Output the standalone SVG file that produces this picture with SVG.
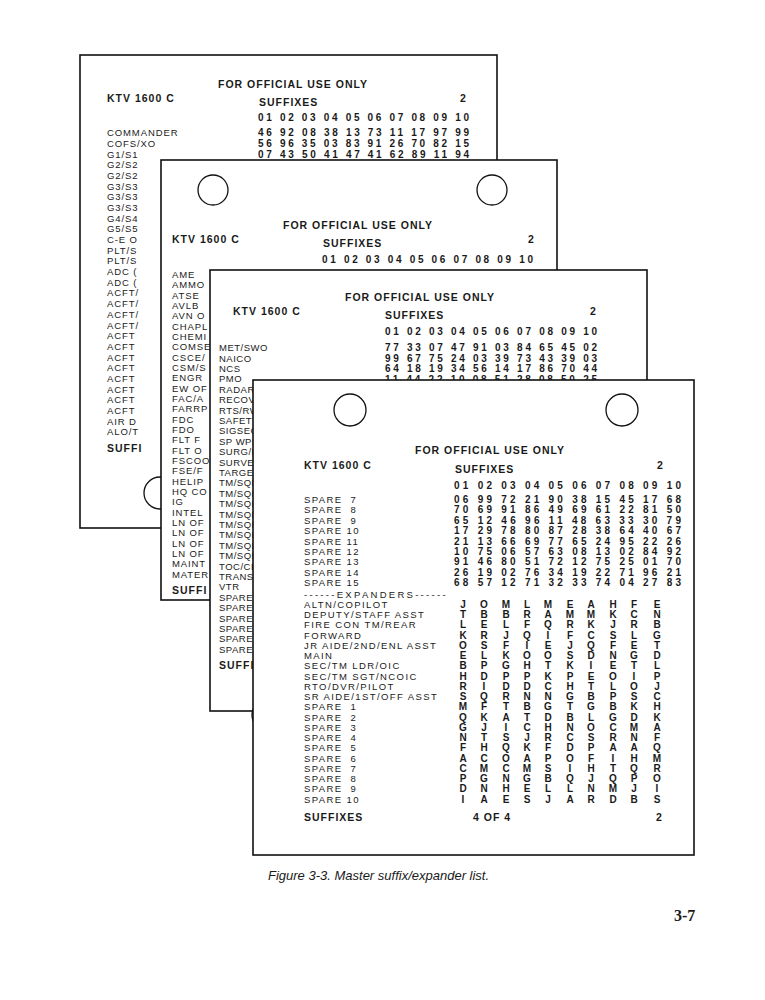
<svg xmlns="http://www.w3.org/2000/svg" width="765" height="1000" viewBox="0 0 765 1000">
<style>
.card{fill:#fff;stroke:#111;stroke-width:1.6}
.hole{fill:#fff;stroke:#111;stroke-width:1.3}
text{font-family:"Liberation Sans",Arial,sans-serif;fill:#1a1a1a}
.h{font-size:10.5px;font-weight:bold;letter-spacing:1px}
.l{font-size:9.5px;letter-spacing:0.9px}
.l4{font-size:9.5px;letter-spacing:1.4px}
.n{font-size:10px;font-weight:bold}
.lt{font-size:10px;font-weight:bold}
</style>
<rect width="765" height="1000" fill="#fff"/>
<g id="card1">
<rect class="card" x="80" y="55" width="417" height="473"/>
<circle class="hole" cx="160" cy="493" r="16"/>
<text class="h" x="218" y="88">FOR OFFICIAL USE ONLY</text>
<text class="h" x="107" y="102">KTV 1600 C</text>
<text class="h" x="259" y="106">SUFFIXES</text>
<text class="h" x="460" y="102">2</text>
<text class="n" x="258" y="121" textLength="211">01 02 03 04 05 06 07 08 09 10</text>
<text class="n" x="258" y="136" textLength="211">46 92 08 38 13 73 11 17 97 99</text>
<text class="n" x="258" y="147" textLength="211">56 96 35 03 83 91 26 70 82 15</text>
<text class="n" x="258" y="158" textLength="211">07 43 50 41 47 41 62 89 11 94</text>
<g class="l">
<text x="107" y="136">COMMANDER</text><text x="107" y="147">COFS/XO</text><text x="107" y="158">G1/S1</text>
<text x="107" y="168">G2/S2</text><text x="107" y="179">G2/S2</text><text x="107" y="190">G3/S3</text>
<text x="107" y="200">G3/S3</text><text x="107" y="211">G3/S3</text><text x="107" y="222">G4/S4</text>
<text x="107" y="232">G5/S5</text><text x="107" y="243">C-E O</text><text x="107" y="254">PLT/S</text>
<text x="107" y="264">PLT/S</text><text x="107" y="275">ADC (</text><text x="107" y="286">ADC (</text>
<text x="107" y="296">ACFT/</text><text x="107" y="307">ACFT/</text><text x="107" y="318">ACFT/</text>
<text x="107" y="329">ACFT/</text><text x="107" y="339">ACFT</text><text x="107" y="350">ACFT</text>
<text x="107" y="361">ACFT</text><text x="107" y="371">ACFT</text><text x="107" y="382">ACFT</text>
<text x="107" y="393">ACFT</text><text x="107" y="403">ACFT</text><text x="107" y="414">ACFT</text>
<text x="107" y="425">AIR D</text><text x="107" y="435">ALO/T</text>
</g>
<text class="h" x="107" y="452">SUFFI</text>
</g>
<g id="card2">
<rect class="card" x="161" y="160" width="396" height="440"/>
<circle class="hole" cx="213" cy="190" r="15"/>
<circle class="hole" cx="492" cy="190" r="15"/>
<text class="h" x="283" y="229">FOR OFFICIAL USE ONLY</text>
<text class="h" x="172" y="243">KTV 1600 C</text>
<text class="h" x="323" y="247">SUFFIXES</text>
<text class="h" x="528" y="243">2</text>
<text class="n" x="322" y="263" textLength="211">01 02 03 04 05 06 07 08 09 10</text>
<g class="l">
<text x="172" y="278">AME</text><text x="172" y="288">AMMO</text><text x="172" y="299">ATSE</text>
<text x="172" y="309">AVLB</text><text x="172" y="319">AVN O</text><text x="172" y="330">CHAPL</text>
<text x="172" y="340">CHEMI</text><text x="172" y="350">COMSE</text><text x="172" y="361">CSCE/</text>
<text x="172" y="371">CSM/S</text><text x="172" y="381">ENGR</text><text x="172" y="392">EW OF</text>
<text x="172" y="402">FAC/A</text><text x="172" y="412">FARRP</text><text x="172" y="423">FDC</text>
<text x="172" y="433">FDO</text><text x="172" y="443">FLT F</text><text x="172" y="454">FLT O</text>
<text x="172" y="464">FSCOO</text><text x="172" y="474">FSE/F</text><text x="172" y="485">HELIP</text>
<text x="172" y="495">HQ CO</text><text x="172" y="505">IG</text><text x="172" y="516">INTEL</text>
<text x="172" y="526">LN OF</text><text x="172" y="536">LN OF</text><text x="172" y="547">LN OF</text>
<text x="172" y="557">LN OF</text><text x="172" y="567">MAINT</text><text x="172" y="578">MATER</text>
</g>
<text class="h" x="172" y="594">SUFFI</text>
</g>
<g id="card3">
<rect class="card" x="210" y="270" width="437" height="441"/>
<circle class="hole" cx="268" cy="715" r="16"/>
<text class="h" x="345" y="301">FOR OFFICIAL USE ONLY</text>
<text class="h" x="233" y="315">KTV 1600 C</text>
<text class="h" x="385" y="319">SUFFIXES</text>
<text class="h" x="590" y="315">2</text>
<text class="n" x="385" y="335" textLength="212">01 02 03 04 05 06 07 08 09 10</text>
<text class="n" x="385" y="351" textLength="212">77 33 07 47 91 03 84 65 45 02</text>
<text class="n" x="385" y="362" textLength="212">99 67 75 24 03 39 73 43 39 03</text>
<text class="n" x="385" y="372" textLength="212">64 18 19 34 56 14 17 86 70 44</text>
<text class="n" x="385" y="383" textLength="212">11 44 22 10 08 51 28 08 50 25</text>
<g class="l" style="letter-spacing:0.5px">
<text x="219" y="351">MET/SWO</text><text x="219" y="362">NAICO</text><text x="219" y="372">NCS</text>
<text x="219" y="382">PMO</text><text x="219" y="393">RADAR</text><text x="219" y="403">RECOVER</text>
<text x="219" y="414">RTS/RWI</text><text x="219" y="424">SAFETY</text><text x="219" y="434">SIGSEC</text>
<text x="219" y="445">SP WPNS</text><text x="219" y="455">SURG/ME</text><text x="219" y="466">SURVEY</text>
<text x="219" y="476">TARGET</text><text x="219" y="486">TM/SQD/</text><text x="219" y="497">TM/SQD/</text>
<text x="219" y="507">TM/SQD/</text><text x="219" y="518">TM/SQD/</text><text x="219" y="528">TM/SQD/</text>
<text x="219" y="538">TM/SQD/</text><text x="219" y="549">TM/SQD/</text><text x="219" y="559">TM/SQD/</text>
<text x="219" y="570">TOC/CP/</text><text x="219" y="580">TRANS/M</text><text x="219" y="590">VTR</text>
<text x="219" y="601">SPARE</text><text x="219" y="611">SPARE</text><text x="219" y="622">SPARE</text>
<text x="219" y="632">SPARE</text><text x="219" y="642">SPARE</text><text x="219" y="653">SPARE</text>
</g>
<text class="h" x="219" y="669">SUFFIXES</text>
</g>
<g id="card4">
<rect class="card" x="253" y="380" width="441" height="475"/>
<circle class="hole" cx="350" cy="410" r="16"/>
<circle class="hole" cx="622" cy="410" r="16"/>
<text class="h" x="415" y="454">FOR OFFICIAL USE ONLY</text>
<text class="h" x="304" y="469">KTV 1600 C</text>
<text class="h" x="455" y="473">SUFFIXES</text>
<text class="h" x="657" y="469">2</text>
<text class="n" x="454" y="489" textLength="227">01 02 03 04 05 06 07 08 09 10</text>
<g class="n">
<text x="454" y="503" textLength="227">06 99 72 21 90 38 15 45 17 68</text>
<text x="454" y="513" textLength="227">70 69 91 86 49 69 61 22 81 50</text>
<text x="454" y="524" textLength="227">65 12 46 96 11 48 63 33 30 79</text>
<text x="454" y="534" textLength="227">17 29 78 80 87 28 38 64 40 67</text>
<text x="454" y="545" textLength="227">21 13 66 69 77 65 24 95 22 26</text>
<text x="454" y="555" textLength="227">10 75 06 57 63 08 13 02 84 92</text>
<text x="454" y="565" textLength="227">91 46 80 51 72 12 75 25 01 70</text>
<text x="454" y="576" textLength="227">26 19 02 76 34 19 22 71 96 21</text>
<text x="454" y="586" textLength="227">68 57 12 71 32 33 74 04 27 83</text>
</g>
<g class="l4">
<text x="304" y="503" xml:space="preserve">SPARE  7</text><text x="304" y="513" xml:space="preserve">SPARE  8</text>
<text x="304" y="524" xml:space="preserve">SPARE  9</text><text x="304" y="534">SPARE 10</text>
<text x="304" y="545">SPARE 11</text><text x="304" y="555">SPARE 12</text>
<text x="304" y="565">SPARE 13</text><text x="304" y="576">SPARE 14</text>
<text x="304" y="586">SPARE 15</text>
<text x="304" y="598" textLength="143">------EXPANDERS------</text>
<text x="304" y="608">ALTN/COPILOT</text><text x="304" y="618">DEPUTY/STAFF ASST</text>
<text x="304" y="628">FIRE CON TM/REAR</text><text x="304" y="639">FORWARD</text>
<text x="304" y="649">JR AIDE/2ND/ENL ASST</text><text x="304" y="659">MAIN</text>
<text x="304" y="669">SEC/TM LDR/OIC</text><text x="304" y="680">SEC/TM SGT/NCOIC</text>
<text x="304" y="690">RTO/DVR/PILOT</text><text x="304" y="700">SR AIDE/1ST/OFF ASST</text>
<text x="304" y="710" xml:space="preserve">SPARE  1</text><text x="304" y="721" xml:space="preserve">SPARE  2</text>
<text x="304" y="731" xml:space="preserve">SPARE  3</text><text x="304" y="741" xml:space="preserve">SPARE  4</text>
<text x="304" y="751" xml:space="preserve">SPARE  5</text><text x="304" y="762" xml:space="preserve">SPARE  6</text>
<text x="304" y="772" xml:space="preserve">SPARE  7</text><text x="304" y="782" xml:space="preserve">SPARE  8</text>
<text x="304" y="792" xml:space="preserve">SPARE  9</text><text x="304" y="803">SPARE 10</text>
</g>
<g class="lt" text-anchor="middle">
<text x="463 484 506 527 548 570 591 613 634 657" y="608">JOMLMEAHFE</text>
<text x="463 484 506 527 548 570 591 613 634 657" y="618">TBBRAMMKCN</text>
<text x="463 484 506 527 548 570 591 613 634 657" y="628">LELFQRKJRB</text>
<text x="463 484 506 527 548 570 591 613 634 657" y="639">KRJQIFCSLG</text>
<text x="463 484 506 527 548 570 591 613 634 657" y="649">OSFIEJQFET</text>
<text x="463 484 506 527 548 570 591 613 634 657" y="659">ELKOOSDNGD</text>
<text x="463 484 506 527 548 570 591 613 634 657" y="669">BPGHTKIETL</text>
<text x="463 484 506 527 548 570 591 613 634 657" y="680">HDPPKPEOIP</text>
<text x="463 484 506 527 548 570 591 613 634 657" y="690">RIDDCHTLOJ</text>
<text x="463 484 506 527 548 570 591 613 634 657" y="700">SQRNNGBPSC</text>
<text x="463 484 506 527 548 570 591 613 634 657" y="710">MFTBGTGBKH</text>
<text x="463 484 506 527 548 570 591 613 634 657" y="721">QKATDBLGDK</text>
<text x="463 484 506 527 548 570 591 613 634 657" y="731">GJICHNOCMA</text>
<text x="463 484 506 527 548 570 591 613 634 657" y="741">NTSJRCSRNF</text>
<text x="463 484 506 527 548 570 591 613 634 657" y="751">FHQKFDPAAQ</text>
<text x="463 484 506 527 548 570 591 613 634 657" y="762">ACOAPOFIHM</text>
<text x="463 484 506 527 548 570 591 613 634 657" y="772">CMCMSIHTQR</text>
<text x="463 484 506 527 548 570 591 613 634 657" y="782">PGNGBQJQPO</text>
<text x="463 484 506 527 548 570 591 613 634 657" y="792">DNHELLNMJI</text>
<text x="463 484 506 527 548 570 591 613 634 657" y="803">IAESJARDBS</text>
</g>
<text class="h" x="304" y="821">SUFFIXES</text>
<text class="h" x="473" y="821">4 OF 4</text>
<text class="h" x="656" y="821">2</text>
</g>
<text x="268" y="880" font-size="13" font-style="italic" style="font-family:'Liberation Sans',Arial,sans-serif">Figure 3-3. Master suffix/expander list.</text>
<text x="674" y="921" font-size="16" font-weight="bold" style="font-family:'Liberation Serif','Times New Roman',serif">3-7</text>
</svg>
